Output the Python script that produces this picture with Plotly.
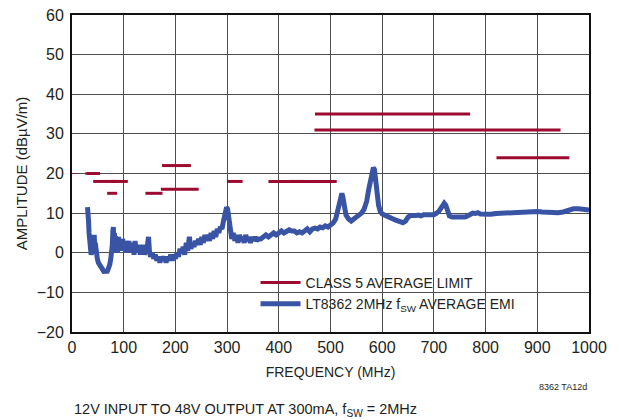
import plotly.graph_objects as go

# ---- data ----
limit_start = [26, 28, 41, 76, 68, 142, 174, 172, 300, 380, 420, 470, 469, 821]
limit_stop = [28, 54, 88, 108, 87, 175, 230, 245, 330, 512, 450, 770, 945, 962]
limit_level = [20, 20, 18, 18, 15, 15, 22, 16, 18, 18, 18, 35, 31, 24]

low_start = [0.5]
low_stop = [6.5]
low_level = [20]

emi_freq = [30, 31, 32, 33, 34, 35, 36, 37, 38, 39, 40, 41, 42, 43, 44, 45, 46, 47, 49, 51,
            53, 55, 57, 59, 61, 63, 65, 67, 69, 71, 73, 75, 77, 78, 79, 80, 81, 82, 83, 84,
            85, 86, 88, 90, 92, 94, 96, 98, 100, 102, 104, 106, 108, 110, 112, 114, 116, 118, 120, 122,
            124, 126, 128, 130, 132, 134, 136, 138, 140, 142, 144, 146, 148, 150, 152, 155, 158, 161, 164, 167,
            170, 173, 176, 179, 182, 185, 188, 191, 194, 197, 200, 203, 206, 209, 212, 215, 218, 221, 224, 227,
            230, 233, 236, 239, 242, 245, 248, 251, 254, 257, 260, 263, 266, 269, 272, 275, 278, 281, 284, 287,
            290, 293, 296, 299, 301, 303, 305, 307, 309, 312, 315, 318, 321, 324, 327, 330, 333, 336, 339, 342,
            345, 348, 351, 354, 357, 360, 365, 370, 375, 380, 385, 390, 395, 400, 405, 410, 415, 420, 425, 430,
            435, 440, 445, 450, 455, 460, 465, 470, 475, 480, 485, 490, 495, 500, 505, 510, 514, 517, 520, 522,
            524, 527, 530, 535, 540, 545, 550, 555, 560, 565, 570, 574, 577, 580, 583, 585, 587, 590, 593, 596,
            600, 605, 610, 615, 620, 625, 630, 635, 640, 645, 650, 655, 660, 665, 670, 675, 680, 685, 690, 695,
            700, 705, 710, 715, 720, 723, 726, 730, 735, 740, 745, 750, 755, 760, 765, 770, 775, 780, 785, 790,
            795, 800, 810, 820, 830, 840, 850, 860, 870, 880, 890, 900, 910, 920, 930, 940, 950, 960, 970, 980,
            990, 1000]
emi_amp = [11.5, 10.5, 8, 5, 2, 1, 0.5, -0.5, 0, 2, 0.5, 3, 1, 4.5, 1, 2.5, 0, -1, -1.5, -2.5,
           -3, -3.5, -4, -4.5, -5, -5, -4.5, -5, -4.5, -4, -3, -1.5, 0, 2, 5.5, 6.5, 2, 5, 0, 4,
           1, 3.5, 0, 4, 1, 3, 0.5, 3.5, 1, 3, 0, 2.5, 0.5, 3, 0, 2.5, 0.5, 2, -0.5, 3,
           0, 2, 0.5, 2, -0.5, 1.5, 0, 2, -0.5, 1, 0, 3.5, 4, 0, -1, 0, -1.5, -0.5, -2, -1,
           -2.5, -1, -2, -1, -2.5, -1, -2, -0.5, -2, -0.5, -1.5, 0, -1, 1, 0, 1.5, -0.5, 2.5, 0.5, 4,
           1, 2.5, 1.5, 3, 2, 3.5, 2, 4, 2.5, 4.5, 3, 4.5, 3, 5, 3.5, 5.5, 4, 6, 5, 6.5,
           6, 8, 9.5, 11.5, 11, 9, 7, 5, 3.5, 5, 3, 4.5, 2.5, 4.5, 3, 4, 2.5, 4.5, 3, 4,
           2.5, 4, 3, 4, 3, 3.5, 3.5, 4, 4.5, 4, 4.5, 5, 4.5, 5, 5.5, 5, 5.5, 5.8, 5.5, 5.5,
           5, 5.3, 5, 5.5, 6, 5.3, 6, 6.2, 6, 6.5, 6.3, 6.8, 6.5, 7, 7.5, 8.5, 11, 13, 14.5, 15,
           14, 11, 9.5, 8.5, 8, 8.5, 9, 9.5, 10, 11, 13, 16, 18, 19, 21.5, 21, 18.5, 15, 12, 10.5,
           9.8, 9.5, 9.3, 9, 8.6, 8.3, 8, 7.8, 7.6, 8, 9, 9.4, 9.3, 9.4, 9.5, 9.3, 9.6, 9.6, 9.5, 9.8,
           9.6, 10, 10.5, 11.5, 12.5, 12, 10.5, 9.3, 9, 9, 8.8, 8.8, 8.7, 9, 9.3, 9.6, 10, 9.9, 10.1, 9.8,
           9.7, 9.6, 9.7, 9.9, 10, 10.1, 10.2, 10.3, 10.4, 10.5, 10.5, 10.4, 10.3, 10.2, 10.1, 10.1, 10.3, 10.7, 11.1, 11.1,
           10.9, 10.8]

x_ticks = [0, 100, 200, 300, 400, 500, 600, 700, 800, 900, 1000]
y_ticks = [-20, -10, 0, 10, 20, 30, 40, 50, 60]

# ---- styles ----
RED = "#9c0a30"
BLUE = "#3a54a5"
FONT = "Liberation Sans, Arial, sans-serif"
TXT = "#231f20"


def segments(starts, stops, levels):
    xs, ys = [], []
    for a, b, v in zip(starts, stops, levels):
        xs += [a, b, None]
        ys += [v, v, None]
    return xs, ys


lx, ly = segments(limit_start, limit_stop, limit_level)
tx, ty = segments(low_start, low_stop, low_level)

fig = go.Figure()
fig.add_trace(go.Scatter(x=tx, y=ty, mode="lines", line=dict(color=RED, width=1),
                         showlegend=False, hoverinfo="skip"))
fig.add_trace(go.Scatter(x=lx, y=ly, mode="lines", line=dict(color=RED, width=3),
                         name="CLASS 5 AVERAGE LIMIT"))
fig.add_trace(go.Scatter(x=emi_freq, y=emi_amp, mode="lines",
                         line=dict(color=BLUE, width=5),
                         name="LT8362 2MHz f<sub>SW</sub> AVERAGE EMI"))

axis_common = dict(showgrid=True, gridcolor="#4d4d4d", gridwidth=1.3,
                   showline=True, linecolor="#111111", linewidth=2, mirror=True,
                   ticks="", zeroline=False, automargin=False,
                   tickfont=dict(family=FONT, size=16, color=TXT))

fig.update_xaxes(range=[0, 1000], tickvals=x_ticks, **axis_common,
                 title=dict(text="FREQUENCY (MHz)", font=dict(family=FONT, size=14, color=TXT),
                            standoff=12))
fig.update_yaxes(range=[-20, 60], tickvals=y_ticks, **axis_common,
                 ticklabelstandoff=3,
                 title=dict(text="AMPLITUDE (dBµV/m)", font=dict(family=FONT, size=15, color=TXT),
                            standoff=5))

# white panel behind the legend (hides gridlines like the reference)
fig.add_shape(type="rect", xref="paper", yref="paper",
              x0=0.355, x1=0.968, y0=0.041, y1=0.218,
              fillcolor="white", line=dict(width=0), layer="between")

fig.update_layout(
    width=619, height=420,
    margin=dict(l=72, r=30, t=15, b=88),
    paper_bgcolor="white", plot_bgcolor="white",
    font=dict(family=FONT, size=15, color=TXT),
    legend=dict(x=0.355, y=0.205, xanchor="left", yanchor="top",
                bgcolor="rgba(255,255,255,0)", borderwidth=0,
                font=dict(family=FONT, size=14, color=TXT),
                tracegroupgap=0, itemwidth=40),
    annotations=[
        dict(text="12V INPUT TO 48V OUTPUT AT 300mA, f<sub>SW</sub> = 2MHz",
             xref="paper", yref="paper", x=0.0, y=-0.245, xanchor="left", yanchor="middle",
             showarrow=False, font=dict(family=FONT, size=14.5, color=TXT)),
        dict(text="8362 TA12d", xref="paper", yref="paper", x=1.0, y=-0.172,
             xanchor="right", yanchor="middle", showarrow=False,
             font=dict(family=FONT, size=9, color=TXT)),
    ],
)

fig.write_html("out.html", config={"displayModeBar": False},
               post_script="document.body.style.margin='0';")
